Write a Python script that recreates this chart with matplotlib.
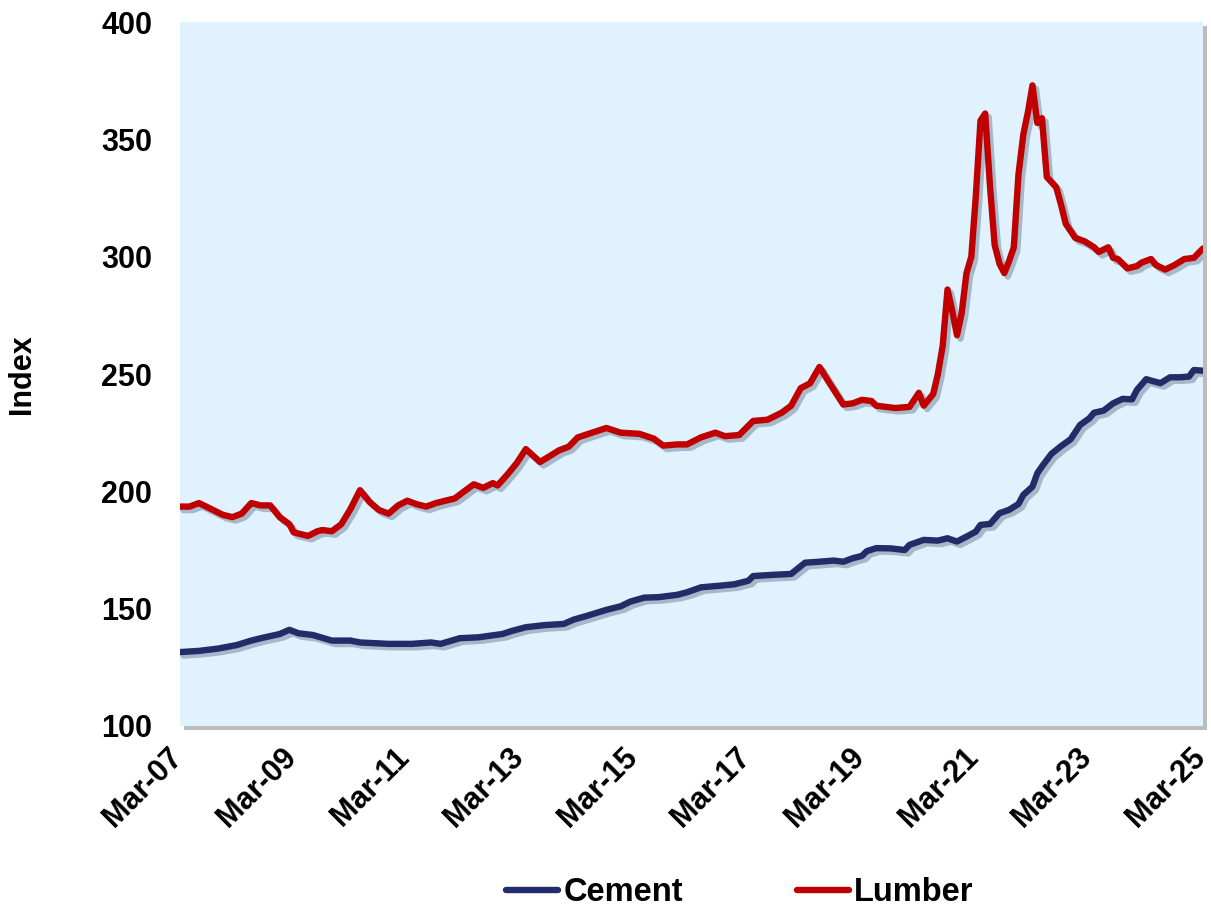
import matplotlib
matplotlib.use('Agg')
import matplotlib.pyplot as plt
import matplotlib.patheffects as pe
import matplotlib.transforms as mtrans
from matplotlib.patches import Rectangle
import pandas as pd

# months counted from Mar-07
lumber_months = [0, 2, 4, 6, 9, 11, 13, 15, 17, 19, 21, 23, 24, 27, 29, 30, 32, 34, 36, 38,
                 40, 42, 44, 46, 48, 50, 52, 54, 56, 58, 60, 62, 64, 66, 67, 69, 71, 73, 76, 78,
                 80, 82, 84, 87, 90, 93, 97, 100, 102, 105, 107, 110, 113, 115, 118, 121, 124, 127, 129, 131,
                 133, 135, 137, 140, 142, 144, 146, 147, 149, 151, 154, 156, 157, 159, 160, 161, 162, 163, 164, 165,
                 166, 167, 168, 169, 170, 171, 172, 173, 174, 175, 176, 177, 178, 179, 180, 181, 182, 183, 185, 186,
                 187, 189, 191, 193, 194, 196, 197, 198, 200, 202, 203, 205, 206, 208, 210, 212, 214, 216]
lumber = [193.5, 193.5, 195, 193, 190, 189, 190.5, 195, 194, 194, 189, 186, 182.5, 181, 183, 183.5, 183, 186, 192.5, 200.5,
          195.5, 192, 190.5, 194, 196, 194.5, 193.5, 195, 196, 197, 200, 203, 201.5, 203.5, 202.5, 207, 212, 218, 212.5, 215,
          217.5, 219, 223, 225, 227, 225, 224.5, 222.5, 219.5, 220, 220, 223, 225, 223.5, 224, 230, 230.5, 233.5, 236.5, 244,
          246, 253, 246.5, 237, 237.5, 239, 238.5, 236.5, 236, 235.5, 236, 242, 236.5, 241.5, 250, 262, 286, 277, 266.5, 276,
          293, 300, 325, 358, 361, 330, 305, 297, 293, 298, 304, 335, 352, 362, 373, 357, 359, 334, 329.5, 322,
          314, 308, 306.5, 304, 302, 304, 299.5, 299, 295, 296, 297.5, 299, 296.5, 294.5, 296.5, 299, 299.5, 303.5]

cement_months = [0, 4, 8, 12, 15, 17, 21, 23, 25, 28, 32, 36, 38, 44, 49, 53, 55, 59, 63, 68,
                 70, 73, 77, 81, 83, 86, 90, 93, 95, 98, 101, 105, 107, 110, 114, 117, 120, 121, 125, 129,
                 130, 132, 135, 138, 140, 142, 144, 145, 147, 150, 153, 154, 157, 160, 162, 164, 166, 168, 169, 171,
                 173, 175, 177, 178, 180, 181, 182, 184, 186, 188, 190, 192, 193, 195, 197, 199, 201, 202, 204, 205,
                 207, 209, 211, 213, 214, 216]
cement = [131.5, 132, 133, 134.5, 136.4, 137.4, 139.2, 141, 139.5, 138.8, 136.4, 136.4, 135.6, 135, 135, 135.6, 135, 137.4, 137.8, 139.2,
          140.5, 142.1, 143, 143.5, 145.3, 147, 149.5, 151, 153, 154.7, 154.9, 155.9, 157, 159.1, 159.8, 160.4, 161.9, 163.9, 164.4, 164.8,
          166.5, 169.6, 170, 170.5, 170, 171.5, 172.5, 174.5, 175.8, 175.7, 175, 177.2, 179.3, 179, 180, 178.6, 180.7, 182.8, 185.7, 186.1,
          190.7, 192.1, 194.6, 198.5, 202, 207.7, 210.6, 216, 219.3, 222.2, 228.3, 231.1, 233.5, 234.4, 237.5, 239.4, 239.2, 243.2, 247.8, 247.2,
          246.1, 248.6, 248.6, 248.9, 251.7, 251.4]

tick_years = list(range(2007, 2026, 2))

start = pd.Timestamp('2007-03-01')


def to_dates(months):
    return [start + pd.DateOffset(months=m) for m in months]


plt.rcParams['font.family'] = ['Liberation Sans', 'DejaVu Sans']
plt.rcParams['font.weight'] = 'bold'

fig = plt.figure(figsize=(12.11, 9.10), dpi=100)
ax = fig.add_axes([0.1486, 0.2022, 0.8448, 0.7736])
ax.set_facecolor('#E0F2FE')
ax.set_zorder(2)

# drop shadow of the plot area, sits behind the axes
shadow = Rectangle((0.1486 + 0.003, 0.2022 - 0.004), 0.8448, 0.7736, transform=fig.transFigure,
                   facecolor='#a0a0a0', edgecolor='none', alpha=0.7, zorder=1)
fig.patches.append(shadow)

line_fx = [pe.SimpleLineShadow(offset=(2.5, -2.5), shadow_color='#38506a', alpha=0.35), pe.Normal()]

ax.plot(to_dates(cement_months), cement, color='#222C66', lw=4.6, label='Cement',
        solid_capstyle='round', solid_joinstyle='round', path_effects=line_fx)
ax.plot(to_dates(lumber_months), lumber, color='#C00000', lw=4.6, label='Lumber',
        solid_capstyle='round', solid_joinstyle='round', path_effects=line_fx)

ax.set_xlim(start, pd.Timestamp('2025-03-01'))
ax.set_ylim(100, 400)
ax.set_yticks(range(100, 401, 50))

ticks = [pd.Timestamp(f'{y}-03-01') for y in tick_years]
ax.set_xticks(ticks)
ax.set_xticklabels([f'Mar-{str(y)[2:]}' for y in tick_years], rotation=45, ha='right',
                   va='center', rotation_mode='anchor')

ax.tick_params(axis='both', length=0, labelsize=22)
ax.tick_params(axis='y', pad=20)
ax.tick_params(axis='x', pad=19)

# nudge the rotated date labels a little to the left, like the original
shift = mtrans.ScaledTranslation(-1.5 / 72, 0, fig.dpi_scale_trans)
for lbl in ax.get_xticklabels():
    lbl.set_transform(lbl.get_transform() + shift)

for s in ax.spines.values():
    s.set_visible(False)

ax.set_ylabel('Index', fontsize=22, fontweight='bold', labelpad=46)

leg = fig.legend(loc='center', bbox_to_anchor=(0.611, 0.019), ncol=2, frameon=False,
                 fontsize=23.5, handlelength=1.6, handletextpad=0.15, columnspacing=3.5)
for h in leg.get_lines():
    h.set_path_effects([])
    h.set_linewidth(4.6)

fig.savefig('out.png', dpi=100)
